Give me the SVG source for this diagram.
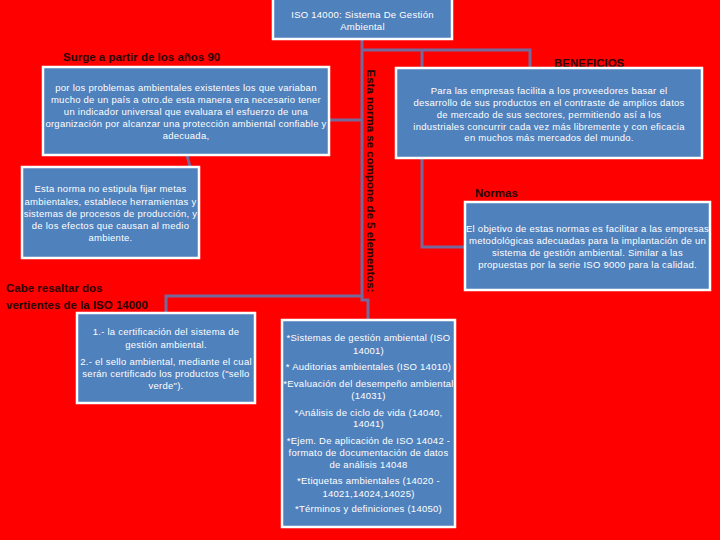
<svg xmlns="http://www.w3.org/2000/svg" width="720" height="540" viewBox="0 0 720 540">
<style>
.box{fill:#4F81BD;stroke:#FFFFFF;stroke-width:2.5}
.t{font-family:"Liberation Sans",Arial,sans-serif;font-size:9.5px;letter-spacing:0.25px;fill:#FFFFFF;text-anchor:middle}
.h{font-family:"Liberation Sans",Arial,sans-serif;font-size:11.5px;font-weight:bold;fill:#2a0505}
.c{fill:none;stroke:#76689a;stroke-width:3}
</style>
<rect width="720" height="540" fill="#FF0000"/>
<g id="connectors">
<path class="c" d="M362 39 V297"/>
<path class="c" d="M362 50 H530 V68"/>
<path class="c" d="M422 50 V247 H466"/>
<path class="c" d="M362 120 H329"/>
<path class="c" d="M187 155 L190 167"/>
<path class="c" d="M362 296 H166 V313"/>
<path class="c" d="M362 296 V300 H368 V320"/>
</g>
<g id="title">
<rect class="box" x="273" y="-3" width="179" height="42"/>
<text class="t" x="362.5" y="18">ISO 14000: Sistema De Gestión</text>
<text class="t" x="362.5" y="30">Ambiental</text>
</g>
<g id="surge">
<text class="h" x="63" y="61">Surge a partir de los años 90</text>
<rect class="box" x="43" y="67" width="286" height="88"/>
<text class="t" x="186" y="91">por los problemas ambientales existentes los que variaban</text>
<text class="t" x="186" y="103">mucho de un país a otro.de esta manera era necesario tener</text>
<text class="t" x="186" y="115">un indicador universal que evaluara el esfuerzo de una</text>
<text class="t" x="186" y="127">organización por alcanzar una protección ambiental confiable y</text>
<text class="t" x="186" y="139">adecuada,</text>
</g>
<g id="estipula">
<rect class="box" x="22" y="167" width="177" height="91"/>
<text class="t" x="110.5" y="192">Esta norma no estipula fijar metas</text>
<text class="t" x="110.5" y="205">ambientales, establece herramientas y</text>
<text class="t" x="110.5" y="217">sistemas de procesos de producción, y</text>
<text class="t" x="110.5" y="229">de los efectos que causan al medio</text>
<text class="t" x="110.5" y="241">ambiente.</text>
</g>
<g id="vertientes">
<text class="h" x="6" y="292">Cabe resaltar dos</text>
<text class="h" x="6" y="309">vertientes de la ISO 14000</text>
<rect class="box" x="77" y="313" width="178" height="90"/>
<text class="t" x="166" y="335">1.- la certificación del sistema de</text>
<text class="t" x="166" y="348">gestión ambiental.</text>
<text class="t" x="166" y="365">2.- el sello ambiental, mediante el cual</text>
<text class="t" x="166" y="377">serán certificado los productos ("sello</text>
<text class="t" x="166" y="389">verde").</text>
</g>
<g id="compone">
<text class="h" font-size="13" text-anchor="middle" transform="translate(367,181) rotate(90)">Esta norma se compone de 5 elementos:</text>
</g>
<g id="elementos">
<rect class="box" x="282" y="320" width="173" height="207"/>
<text class="t" x="368.5" y="341">*Sistemas de gestión  ambiental (ISO</text>
<text class="t" x="368.5" y="354">14001)</text>
<text class="t" x="368.5" y="370">* Auditorias ambientales (ISO 14010)</text>
<text class="t" x="368.5" y="387">*Evaluación del desempeño ambiental</text>
<text class="t" x="368.5" y="399">(14031)</text>
<text class="t" x="368.5" y="416">*Análisis de ciclo de vida (14040,</text>
<text class="t" x="368.5" y="427">14041)</text>
<text class="t" x="368.5" y="444">*Ejem. De aplicación  de ISO 14042 -</text>
<text class="t" x="368.5" y="456">formato de documentación de datos</text>
<text class="t" x="368.5" y="468">de análisis 14048</text>
<text class="t" x="368.5" y="484">*Etiquetas ambientales (14020 -</text>
<text class="t" x="368.5" y="497">14021,14024,14025)</text>
<text class="t" x="368.5" y="512">*Términos y definiciones (14050)</text>
</g>
<g id="beneficios">
<text class="h" font-weight="normal" x="554" y="67">BENEFICIOS</text>
<rect class="box" x="396" y="68" width="306" height="90"/>
<text class="t" x="549" y="94">Para las empresas facilita a los proveedores basar el</text>
<text class="t" x="549" y="106">desarrollo de sus productos en el contraste de amplios datos</text>
<text class="t" x="549" y="118">de mercado de sus sectores, permitiendo así a los</text>
<text class="t" x="549" y="130">industriales concurrir cada vez más libremente y con eficacia</text>
<text class="t" x="549" y="141">en muchos más mercados del mundo.</text>
</g>
<g id="normas">
<text class="h" x="475" y="197">Normas</text>
<rect class="box" x="465" y="202" width="245" height="88"/>
<text class="t" x="587.5" y="232">El objetivo de estas normas es facilitar a las empresas</text>
<text class="t" x="587.5" y="244">metodológicas adecuadas para la implantación de un</text>
<text class="t" x="587.5" y="256">sistema de gestión ambiental. Similar a las</text>
<text class="t" x="587.5" y="268">propuestas por la serie ISO 9000 para la calidad.</text>
</g>
</svg>
